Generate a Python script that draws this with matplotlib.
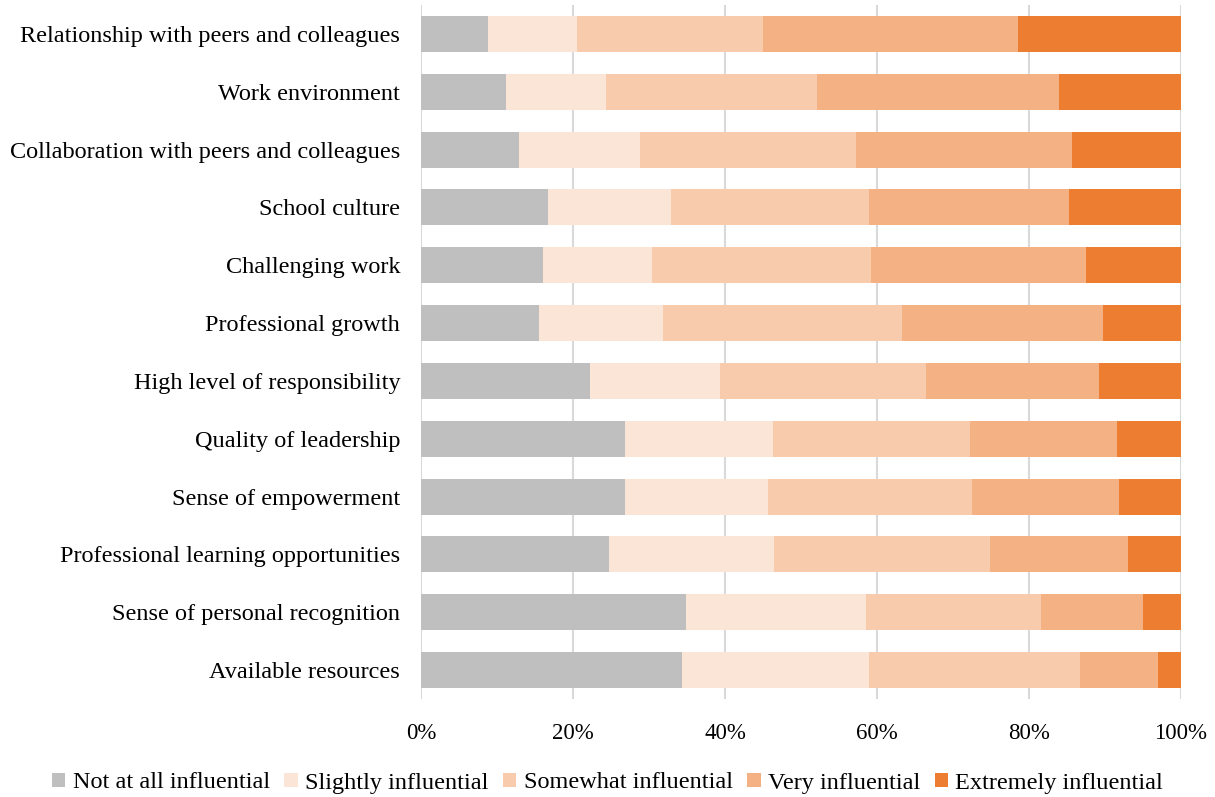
import numpy as np
import matplotlib
matplotlib.use("Agg")
from matplotlib import pyplot as plt
from matplotlib.ticker import PercentFormatter

# categories, top to bottom
factors = [
    "Relationship with peers and colleagues",
    "Work environment",
    "Collaboration with peers and colleagues",
    "School culture",
    "Challenging work",
    "Professional growth",
    "High level of responsibility",
    "Quality of leadership",
    "Sense of empowerment",
    "Professional learning opportunities",
    "Sense of personal recognition",
    "Available resources",
]

levels = ["Not at all influential", "Slightly influential", "Somewhat influential",
          "Very influential", "Extremely influential"]

not_at_all = [8.8, 11.2, 12.9, 16.7, 16.1, 15.5, 22.2, 26.8, 26.8, 24.7, 34.9, 34.3]
slightly = [11.7, 13.1, 15.9, 16.2, 14.3, 16.3, 17.1, 19.5, 18.9, 21.7, 23.7, 24.6]
somewhat = [24.5, 27.8, 28.4, 26.0, 28.8, 31.5, 27.1, 25.9, 26.8, 28.5, 23.0, 27.8]
very = [33.6, 31.8, 28.5, 26.4, 28.3, 26.4, 22.8, 19.4, 19.3, 18.1, 13.4, 10.3]
extremely = [21.4, 16.1, 14.3, 14.7, 12.5, 10.3, 10.8, 8.4, 8.2, 7.0, 5.0, 3.0]

colors = ["#BFBFBF", "#FBE5D6", "#F8CBAD", "#F4B183", "#ED7D31"]

plt.rcParams['font.family'] = ['Liberation Serif', 'DejaVu Serif']

fig = plt.figure(figsize=(12.15, 7.97), dpi=100)
ax = fig.add_axes([421 / 1215, 1 - 699 / 797, 760 / 1215, 694 / 797])

y = np.arange(len(factors))
left = np.zeros(len(factors))
for vals, lab, col in zip([not_at_all, slightly, somewhat, very, extremely], levels, colors):
    ax.barh(y, vals, left=left, height=0.62, color=col, label=lab, zorder=3)
    left += np.array(vals)

ax.set_ylim(len(factors) - 0.5, -0.5)
ax.set_xlim(0, 100)
ax.set_yticks(y)
ax.set_yticklabels(factors, fontsize=17.5)
ax.set_xticks(np.arange(0, 101, 20))
ax.xaxis.set_major_formatter(PercentFormatter(decimals=0))
ax.tick_params(axis='x', labelsize=16.5, length=0, pad=17)
ax.tick_params(axis='y', length=0, pad=15)
ax.grid(axis='x', color='#D9D9D9', linewidth=1.5, zorder=0)
for s in ax.spines.values():
    s.set_visible(False)

fig.legend(loc='center', bbox_to_anchor=(0.5, 1 - 783 / 797), ncol=5, frameon=False,
           fontsize=17.5, handlelength=0.55, handleheight=0.55, handletextpad=0.3,
           columnspacing=0.6)

plt.savefig("out.png", dpi=100)
